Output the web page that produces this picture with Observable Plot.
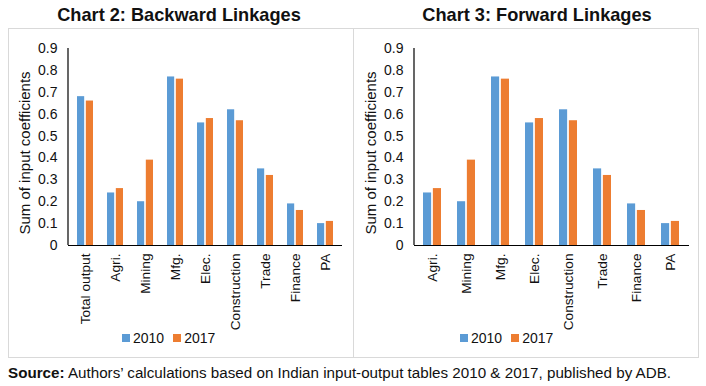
<!DOCTYPE html>
<html><head><meta charset="utf-8">
<script src="https://cdn.jsdelivr.net/npm/d3@7"></script>
<script src="https://cdn.jsdelivr.net/npm/@observablehq/plot@0.6"></script>
<style>
body{margin:0;width:706px;height:386px;background:#fff;font-family:"Liberation Sans",Arial,sans-serif;position:relative;overflow:hidden;color:#111}
.title{position:absolute;top:6px;font-weight:bold;font-size:18.2px;line-height:1;white-space:nowrap;transform:translateX(-50%)}
.panel{position:absolute;top:28px;width:346px;height:330px;border:1px solid #d9d9d9;box-sizing:border-box}
.chart{position:absolute;top:28px}
.legend{position:absolute;top:330px;height:16px;display:flex;align-items:center;font-size:14px;white-space:nowrap}
.sw{width:8px;height:8px;margin-right:3px}
.lab{margin-right:9px}
.source{position:absolute;left:8px;top:365px;font-size:15.2px;line-height:1;white-space:nowrap}
</style></head>
<body>
<div class="panel" style="left:8px"></div>
<div class="panel" style="left:353px"></div>
<div class="title" style="left:179px">Chart 2: Backward Linkages</div>
<div class="title" style="left:537px">Chart 3: Forward Linkages</div>
<div id="c1" class="chart" style="left:8px"></div>
<div id="c2" class="chart" style="left:353px"></div>
<div id="l1" class="legend" style="left:122px"></div>
<div id="l2" class="legend" style="left:460px"></div>
<div class="source"><b>Source:</b> Authors’ calculations based on Indian input-output tables 2010 &amp; 2017, published by ADB.</div>
<script>
const backwardCategories = ["Total output","Agri.","Mining","Mfg.","Elec.","Construction","Trade","Finance","PA"];
const backward2010 = [0.68,0.24,0.20,0.77,0.56,0.62,0.35,0.19,0.10];
const backward2017 = [0.66,0.26,0.39,0.76,0.58,0.57,0.32,0.16,0.11];
const forwardCategories = ["Agri.","Mining","Mfg.","Elec.","Construction","Trade","Finance","PA"];
const forward2010 = [0.24,0.20,0.77,0.56,0.62,0.35,0.19,0.10];
const forward2017 = [0.26,0.39,0.76,0.58,0.57,0.32,0.16,0.11];
const seriesNames = ["2010","2017"];
const seriesColors = ["#5B9BD5","#ED7D31"];
const yTicks = [0,0.1,0.2,0.3,0.4,0.5,0.6,0.7,0.8,0.9];
const yLabel = "Sum of input coefficients";

function draw(el, cats, a, b, ml, mr) {
  const W = 345, H = 310, mt = 20, mb = 93, pad = 0.47;
  const rows = cats.map((c,i)=>({cat:c, v2010:a[i], v2017:b[i]}));
  const bw = (W - ml - mr) / cats.length * (1 - pad);
  const chart = Plot.plot({
    width: W, height: H,
    marginLeft: ml, marginRight: mr, marginTop: mt, marginBottom: mb,
    style: {fontFamily: '"Liberation Sans", Arial, sans-serif', color: "#111", background: "transparent"},
    x: {domain: cats, paddingInner: pad, paddingOuter: pad/2},
    y: {domain: [0, 0.9]},
    marks: [
      Plot.barY(rows, {x: "cat", y: "v2010", fill: seriesColors[0], insetRight: bw/2 + 0.75}),
      Plot.barY(rows, {x: "cat", y: "v2017", fill: seriesColors[1], insetLeft: bw/2 + 0.75}),
      Plot.ruleY([0], {stroke: "#000", strokeWidth: 1.2}),
      Plot.axisY({ticks: yTicks, tickSize: 0, tickPadding: 11, tickFormat: d3.format("~g"), label: null, fontSize: 14}),
      Plot.axisX({tickSize: 0, tickRotate: -90, tickPadding: 8, label: null, fontSize: 13.7}),
      Plot.text([yLabel], {text: d => d, frameAnchor: "left", textAnchor: "middle", rotate: -90, dx: -43, dy: 6, fontSize: 15, fill: "#111"})
    ]
  });
  const yS = chart.scale("y");
  d3.select(chart).append("line")
    .attr("x1", ml).attr("x2", ml)
    .attr("y1", yS.apply(0.9)).attr("y2", yS.apply(0))
    .attr("stroke", "#000").attr("stroke-width", 1.2);
  document.getElementById(el).appendChild(chart);
}
draw("c1", backwardCategories, backward2010, backward2017, 60, 11);
draw("c2", forwardCategories, forward2010, forward2017, 61, 9);

for (const id of ["l1","l2"]) {
  const lg = document.getElementById(id);
  seriesNames.forEach((n,i)=>{
    const s = document.createElement("div"); s.className = "sw"; s.style.background = seriesColors[i];
    const t = document.createElement("div"); t.className = "lab"; t.textContent = n;
    lg.appendChild(s); lg.appendChild(t);
  });
}
</script>
</body></html>
